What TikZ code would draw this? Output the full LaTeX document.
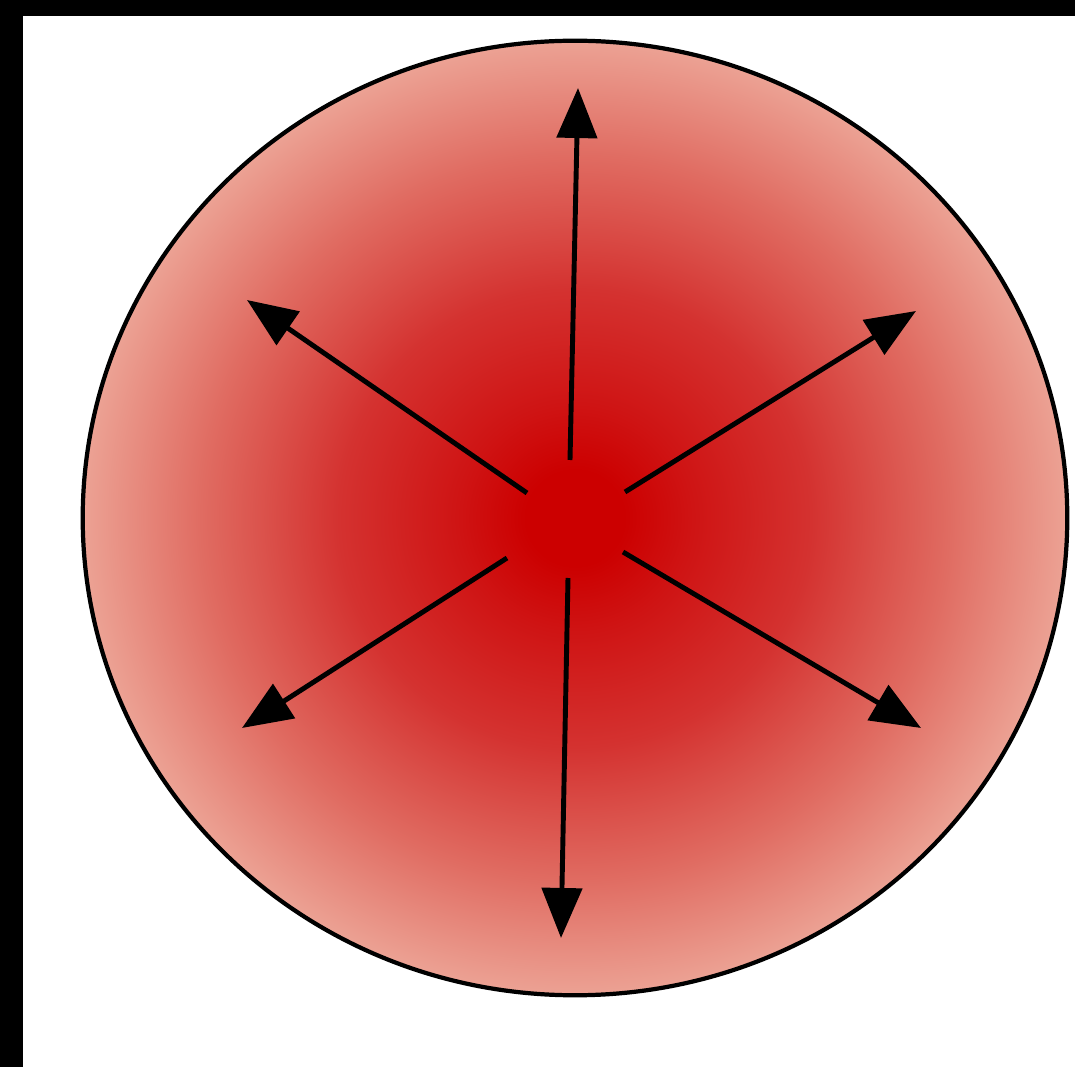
\documentclass[tikz,border=0pt]{standalone}
\usepackage{xcolor}
\usepackage{tikz}
\usetikzlibrary{
  arrows.meta
}
\definecolor{framebk}{RGB}{0, 0, 0}
\definecolor{corered}{RGB}{204, 0, 0}
\definecolor{innerred}{RGB}{207, 20, 20}
\definecolor{midred}{RGB}{212, 50, 48}
\definecolor{outerred}{RGB}{224, 108, 98}
\definecolor{edgered}{RGB}{236, 162, 148}
\pgfdeclareradialshading{burst}{\pgfpoint{0bp}{0bp}}{%
  color(0bp)=(corered); color(2.5bp)=(corered); color(6bp)=(innerred);
  color(12bp)=(midred); color(19bp)=(outerred); color(25bp)=(edgered);
  color(50bp)=(edgered)}
\tikzset{
  ray/.style = {
    -{Triangle[length=0.5cm, width=0.4cm]},
    draw=black, line width=1.4pt
  },
  rim/.style = {draw=black, line width=1.2pt},
}

\begin{document}
\begin{tikzpicture}[x=0.01cm, y=-0.01cm]
  \useasboundingbox (0,0) rectangle (1075,1067);
  \fill[framebk] (0,0) rectangle (1075,16);
  \fill[framebk] (0,0) rectangle (23,1067);

  \coordinate (core) at (575,518);
  \shadedraw[rim, shading=burst] (core)
    ellipse [x radius=4.92cm, y radius=4.77cm];

  % ray ends
  \coordinate (nfrom)  at (570,460);
  \coordinate (nto)    at (578,88);
  \coordinate (nwfrom) at (527,493);
  \coordinate (nwto)   at (247,300);
  \coordinate (nefrom) at (625,492);
  \coordinate (neto)   at (916,311);
  \coordinate (swfrom) at (507,558);
  \coordinate (swto)   at (242,728);
  \coordinate (sfrom)  at (568,578);
  \coordinate (sto)    at (561,938);
  \coordinate (sefrom) at (623,552);
  \coordinate (seto)   at (921,728);

  \draw[ray] (nfrom)  -- (nto);
  \draw[ray] (nwfrom) -- (nwto);
  \draw[ray] (nefrom) -- (neto);
  \draw[ray] (swfrom) -- (swto);
  \draw[ray] (sfrom)  -- (sto);
  \draw[ray] (sefrom) -- (seto);

\end{tikzpicture}
\end{document}
